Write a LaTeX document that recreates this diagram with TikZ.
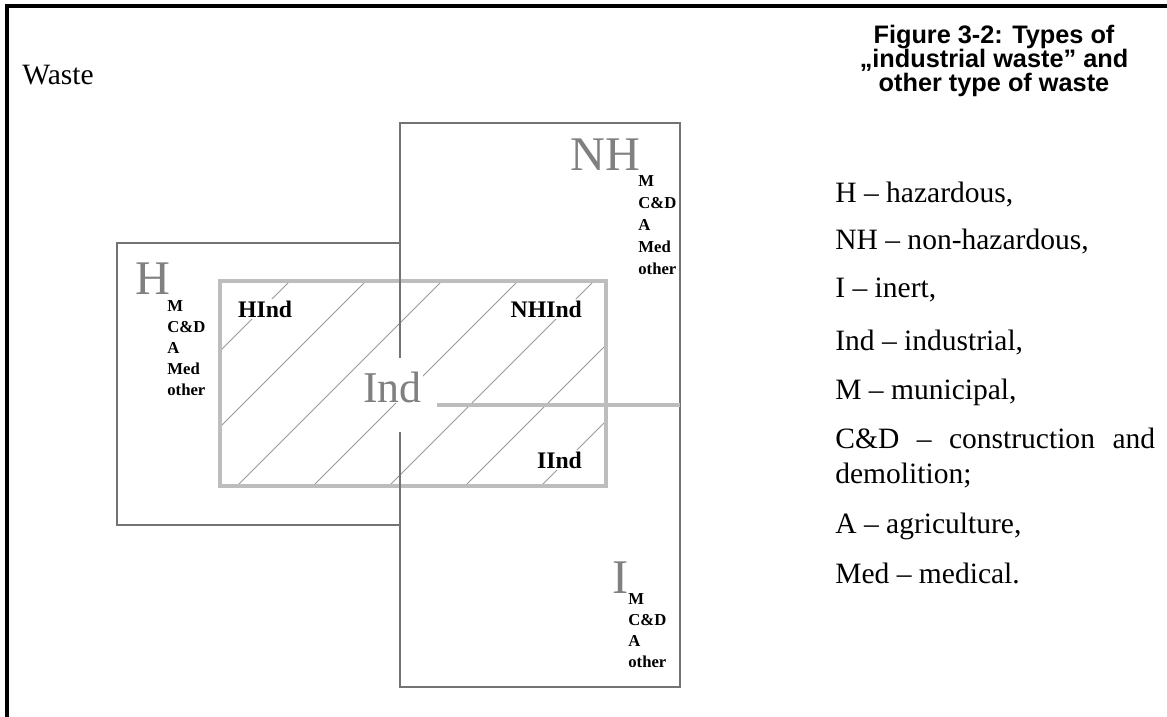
\documentclass[tikz,border=0pt]{standalone}
\usepackage{fontspec}
\setmainfont{Liberation Serif}
\setsansfont{Liberation Sans}
\definecolor{rectgray}{gray}{0.45}
\definecolor{indgray}{gray}{0.74}
\definecolor{hatchgray}{gray}{0.6}
\definecolor{lettergray}{gray}{0.5}
\tikzset{
  rectline/.style={draw=rectgray, line width=1.1pt},
  indbox/.style={draw=indgray, line width=2.8pt},
  hatch/.style={draw=hatchgray, line width=0.45pt},
  bigletter/.style={text=lettergray, font=\fontsize{27.5}{28}\selectfont, inner sep=0pt, anchor=base west},
  sublist/.style={font=\bfseries\fontsize{9.5}{11}\selectfont, inner sep=0pt, anchor=base west},
  indlabel/.style={font=\bfseries\fontsize{13.5}{14}\selectfont, fill=white, inner sep=1pt},
  legend/.style={font=\fontsize{16.8}{20}\selectfont, inner sep=0pt, anchor=base west},
}
\begin{document}
\begin{tikzpicture}[x=0.02cm, y=-0.02cm]
    \useasboundingbox (0,0) rectangle (1167,717);
    % frame
    \draw[line width=1.8pt] (7,717) -- (7,6) -- (1167,6);
    \node[legend] (waste) at (22,84) {Waste};
    \node[font=\sffamily\bfseries\fontsize{14.4}{13.6}\selectfont, align=center, anchor=north, inner sep=0pt] (caption) at (994,25)
      {Figure 3-2: Types of\\„industrial waste” and\\other type of waste};

    % hatching of Ind
    \begin{scope}
      \clip (220,281) rectangle (606,486);
      \foreach \c in {571,647,...,1027}
        \draw[hatch] (\c-486,486) -- (\c-281,281);
    \end{scope}
    \draw[indbox] (220,281) rectangle (606,486);

    % H box and NH/I box
    \draw[rectline] (400,243) -- (117,243) -- (117,525) -- (400,525);
    \draw[rectline] (400,358) -- (400,123) -- (680,123) -- (680,687) -- (400,687) -- (400,432);
    \draw[draw=indgray, line width=2.5pt] (437,405) -- (680,405);

    \node[bigletter] (hlet) at (135,294) {H};
    \node[bigletter] (nhlet) at (570,170) {NH};
    \node[bigletter] (ilet) at (612,593) {I};
    \node[bigletter, fill=white, inner sep=0.5pt, font=\fontsize{25}{25}\selectfont] (indlet) at (362,402) {Ind};

    \foreach \t [count=\i] in {M, C\&D, A, Med, other}
      \node[sublist] (hl\i) at (167,290+21*\i) {\t};
    \foreach \t [count=\i] in {M, C\&D, A, Med, other}
      \node[sublist] (nhl\i) at (638,164+22*\i) {\t};
    \foreach \t [count=\i] in {M, C\&D, A, other}
      \node[sublist] (il\i) at (628,583+21*\i) {\t};

    \node[indlabel, anchor=base west] (hind) at (236,317) {HInd};
    \node[indlabel, anchor=base east] (nhind) at (584,317) {NHInd};
    \node[indlabel, anchor=base east] (iind) at (584,468) {IInd};

    % legend
    \node[legend] (lh) at (835,202) {H – hazardous,};
    \node[legend] (lnh) at (835,249) {NH – non-hazardous,};
    \node[legend] (li) at (835,297) {I – inert,};
    \node[legend] (lind) at (835,350) {Ind – industrial,};
    \node[legend] (lm) at (835,399) {M – municipal,};
    \node[legend] (lcd) at (835,448) {\hbox to 182pt{C\&D \hfill – \hfill construction \hfill and}};
    \node[legend] (lcd2) at (835,483) {demolition;};
    \node[legend] (la) at (835,533) {A – agriculture,};
    \node[legend] (lmed) at (835,583) {Med – medical.};
\end{tikzpicture}
\end{document}
